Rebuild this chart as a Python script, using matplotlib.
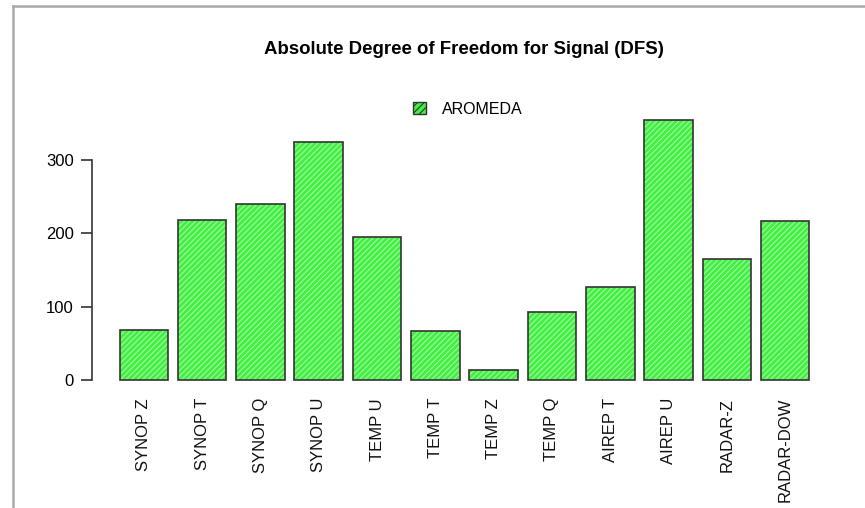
import matplotlib.pyplot as plt
import numpy as np
from matplotlib.lines import Line2D
from matplotlib.patches import Patch

plt.rcParams['font.family'] = ['Liberation Sans', 'DejaVu Sans']
plt.rcParams['hatch.linewidth'] = 0.8

# data
labels = ["SYNOP Z", "SYNOP T", "SYNOP Q", "SYNOP U", "TEMP U", "TEMP T",
          "TEMP Z", "TEMP Q", "AIREP T", "AIREP U", "RADAR-Z", "RADAR-DOW"]
dfs = [68, 218, 240, 325, 195, 67, 14, 93, 127, 355, 165, 217]
yticks = [0, 100, 200, 300]

fig = plt.figure(figsize=(8.65, 5.08), dpi=100)
ax = fig.add_axes([92 / 865, 117 / 508, 745 / 865, 319 / 508])

# R barplot style positions (space = 0.2)
x = 0.7 + 1.2 * np.arange(len(dfs))
green = "#44ee44"
ax.bar(x, dfs, width=1.0, color=green, edgecolor="#9dfb9d", linewidth=0, hatch="//////")
ax.bar(x, dfs, width=1.0, fill=False, edgecolor="#333333", linewidth=1.2)

ax.set_xlim(-0.368, 14.968)
ax.set_ylim(-15, 420)
ax.set_xticks(x)
ax.set_xticklabels(labels, rotation=90, fontsize=12, color="#111111")
ax.tick_params(axis="x", length=0, pad=5)
ax.set_yticks(yticks)
ax.tick_params(axis="y", length=8, width=1.2, color="#333333", labelsize=12, pad=5)
for s in ["top", "right", "bottom"]:
    ax.spines[s].set_visible(False)
ax.spines["left"].set_bounds(0, 300)
ax.spines["left"].set_linewidth(1.2)
ax.spines["left"].set_color("#333333")

fig.text(464 / 865, 1 - 49 / 508, "Absolute Degree of Freedom for Signal (DFS)",
         ha="center", va="center", fontsize=13.4, fontweight="bold")

leg_handle = Patch(facecolor=green, edgecolor="#333333", hatch="/////", linewidth=1)
ax.legend([leg_handle], ["AROMEDA"], loc="center", bbox_to_anchor=(468 / 865, 1 - 109 / 508),
          bbox_transform=fig.transFigure, frameon=False, fontsize=11.5,
          handlelength=0.85, handleheight=0.85, handletextpad=1.0)

# screenshot frame
fig.add_artist(Line2D([13 / 865, 13 / 865], [0, 1 - 6 / 508], color="#aaaaaa", linewidth=1.8))
fig.add_artist(Line2D([13 / 865, 1], [1 - 6 / 508, 1 - 6 / 508], color="#aaaaaa", linewidth=1.8))

fig.savefig("out.png", dpi=100)
